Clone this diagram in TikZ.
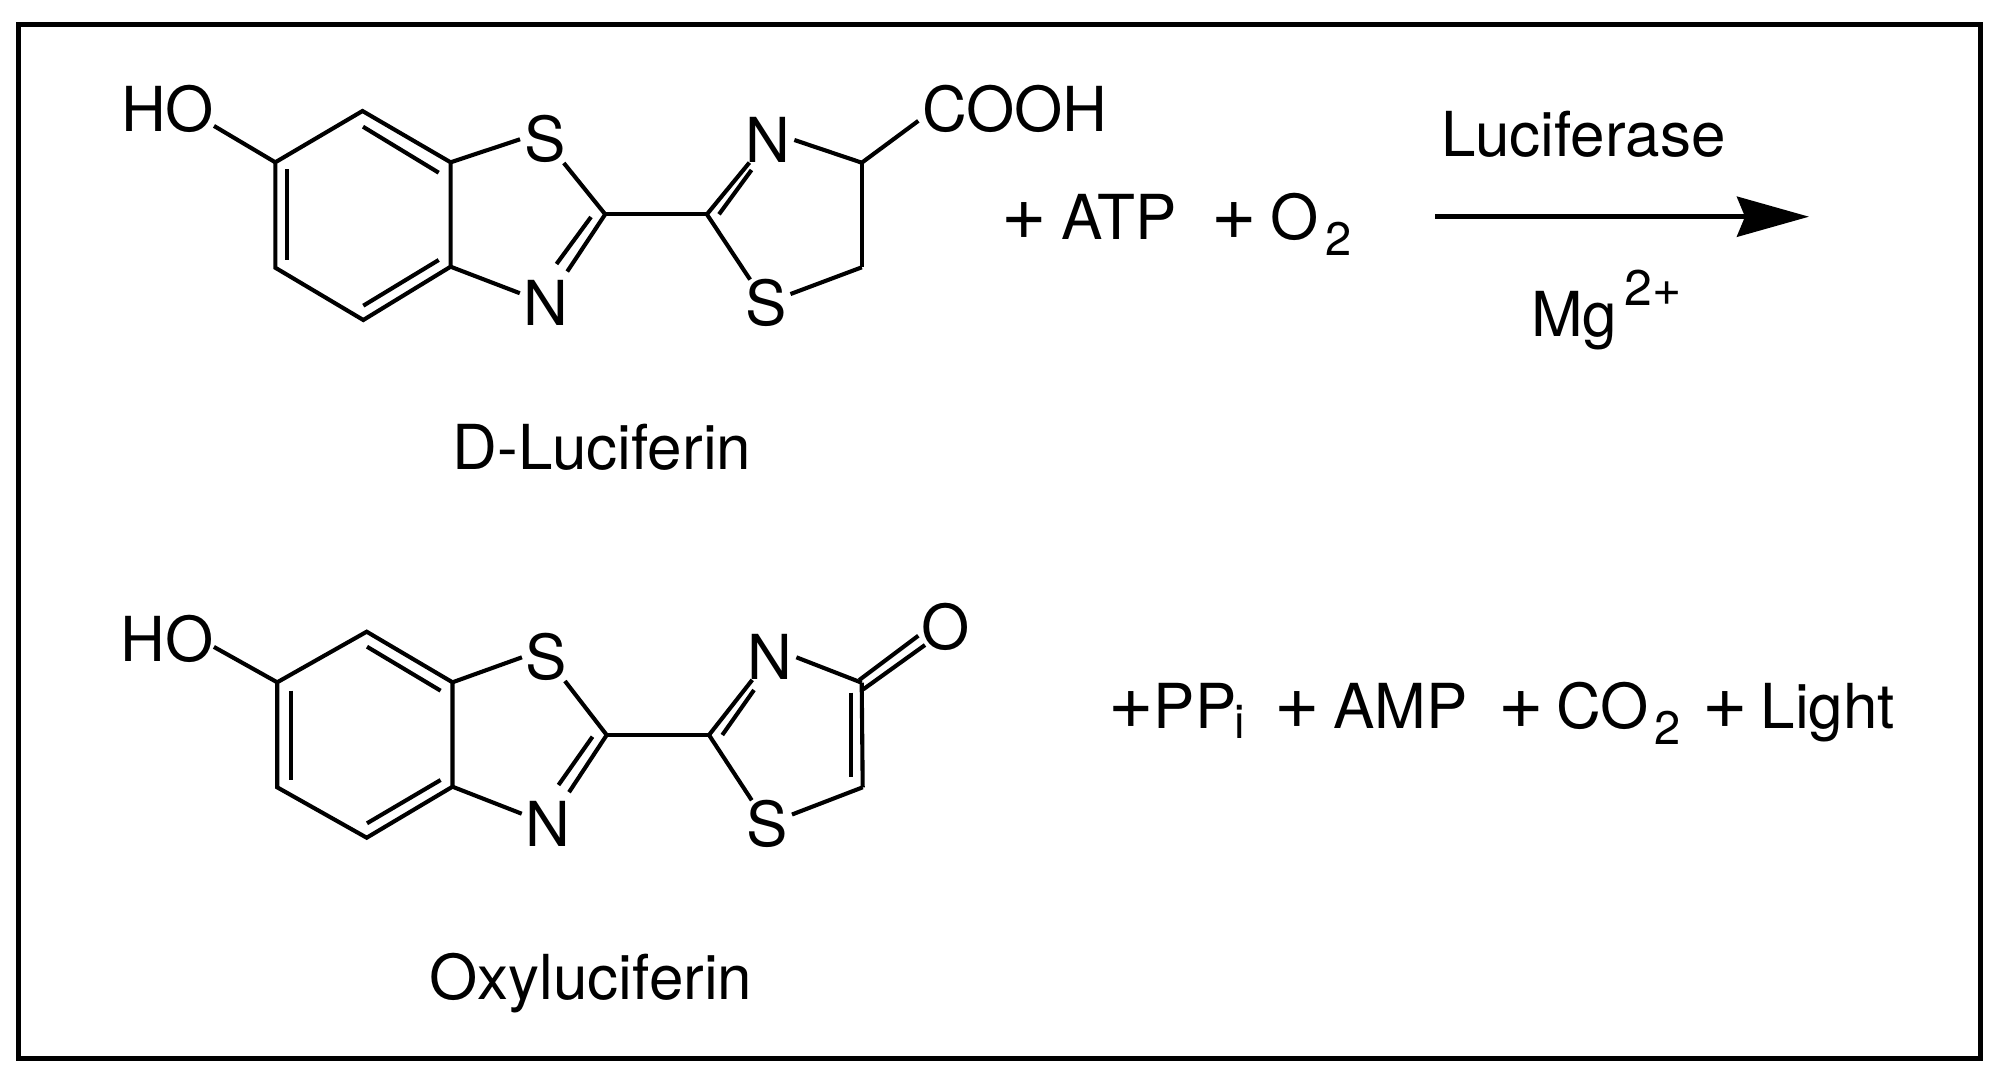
\documentclass[tikz,border=0pt]{standalone}
\usepackage{fontspec}
\setmainfont{TeX Gyre Heros}
\usetikzlibrary{arrows.meta}
\newcommand{\lowidx}[3]{\hspace{#1}\raisebox{-#2}{\fontsize{47}{50}\selectfont #3}}
\newcommand{\plusglyph}{{\fontsize{78}{80}\selectfont +}}
\tikzset{
	bond/.style={line width=4.1pt},
	atom/.style={inner xsep=4pt, inner ysep=0pt, outer sep=0pt, font=\fontsize{62}{70}\selectfont},
	chemtext/.style={inner sep=0pt, anchor=base west, font=\fontsize{62}{70}\selectfont},
	nametext/.style={inner sep=0pt, anchor=base, font=\fontsize{62}{70}\selectfont},
	frame/.style={line width=5pt},
	reaction/.style={line width=5pt, -{Stealth[length=72pt,width=40pt,inset=8pt]}}
}
\begin{document}
\begin{tikzpicture}[x=1pt,y=-1pt]
	\useasboundingbox (0,0) rectangle (2000,1068);
	\draw[frame] (18.7,24) rectangle (1980.7,1058.3);

	\coordinate (a1) at (362.5,111);
	\coordinate (a2) at (450.6,162.3);
	\coordinate (a3) at (450.6,266.7);
	\coordinate (a4) at (363.3,320);
	\coordinate (a5) at (275.3,267.7);
	\coordinate (a6) at (275.3,162.3);
	\coordinate (a7) at (605.2,214.3);
	\coordinate (a8) at (706.9,214.3);
	\coordinate (a9) at (861.8,162.7);
	\coordinate (a10) at (861.8,267.3);

	\node[atom,inner xsep=0pt] (aho) at (167.5,109) {HO};
	\node[atom] (as1) at (544.7,139.3) {S};
	\node[atom] (an1) at (546.2,303.3) {N};
	\node[atom] (an2) at (768,140) {N};
	\node[atom] (as2) at (765.8,303.3) {S};
	\node[atom] (acooh) at (1015,109) {COOH};

	\draw[bond] (aho.-20) -- (a6);
	\draw[bond,line join=miter] (a6) -- (a1) -- (a2) -- (a3) -- (a4) -- (a5) -- cycle;
	\draw[bond] (a2) -- (as1.west);
	\draw[bond] (a3) -- (an1);
	\draw[bond] (as1) -- (a7);
	\draw[bond,shorten >=11pt] (a7) -- (an1);
	\draw[bond] (a7) -- (a8);
	\draw[bond] (a8) -- (an2);
	\draw[bond] (a8) -- (as2);
	\draw[bond] (an2.east) -- (a9);
	\draw[bond] (a9) -- (a10);
	\draw[bond] (a10) -- (as2);
	\draw[bond] (a9) -- (acooh.187);

	\coordinate (ai1) at (287,169);
	\coordinate (ai2) at (287,260);
	\coordinate (ai3) at (363,126.7);
	\coordinate (ai4) at (438.7,172.7);
	\coordinate (ai5) at (438.7,260);
	\coordinate (ai6) at (363.3,305.7);
	\coordinate (ai7) at (591,217);
	\coordinate (ai8) at (556.5,264);
	\coordinate (ai9) at (719,214.3);
	\coordinate (ai10) at (751.5,170);
	\draw[bond] (ai1) -- (ai2);
	\draw[bond] (ai3) -- (ai4);
	\draw[bond] (ai5) -- (ai6);
	\draw[bond] (ai7) -- (ai8);
	\draw[bond] (ai9) -- (ai10);

	\node[chemtext] (reactants) at (1001,239) {\plusglyph\hspace{15pt}ATP\hspace{35pt}\plusglyph\hspace{13pt}O\lowidx{7pt}{16pt}{2}};
	\node[chemtext] (enzyme) at (1441,156) {Luciferase};
	\node[chemtext] (cofactor) at (1531,336) {Mg\raisebox{31pt}{\hspace{7pt}\fontsize{50}{54}\selectfont 2+}};
	\coordinate (arrowstart) at (1435,216.7);
	\coordinate (arrowend) at (1809,216.7);
	\draw[reaction] (arrowstart) -- (arrowend);
	\node[nametext] (dname) at (602,469.3) {D-Luciferin};

	\coordinate (b1) at (366.7,631.7);
	\coordinate (b2) at (452.5,682.3);
	\coordinate (b3) at (452.5,786.7);
	\coordinate (b4) at (366.7,837.7);
	\coordinate (b5) at (277.2,787.3);
	\coordinate (b6) at (277.2,682.3);
	\coordinate (b7) at (606.7,735);
	\coordinate (b8) at (709,735);
	\coordinate (b9) at (861.7,682.7);
	\coordinate (b10) at (862.7,787.3);

	\node[atom,inner xsep=0pt] (bho) at (167.4,638.7) {HO};
	\node[atom] (bs1) at (546.6,657.3) {S};
	\node[atom] (bn1) at (548.1,824) {N};
	\node[atom] (bn2) at (770,657.3) {N};
	\node[atom] (bs2) at (767.3,824) {S};
	\node[atom] (boxo) at (946,626.7) {O};

	\draw[bond] (bho.-10) -- (b6);
	\draw[bond,line join=miter] (b6) -- (b1) -- (b2) -- (b3) -- (b4) -- (b5) -- cycle;
	\draw[bond] (b2) -- (bs1.west);
	\draw[bond] (b3) -- (bn1);
	\draw[bond] (bs1) -- (b7);
	\draw[bond,shorten >=11pt] (b7) -- (bn1);
	\draw[bond] (b7) -- (b8);
	\draw[bond] (b8) -- (bn2);
	\draw[bond] (b8) -- (bs2);
	\draw[bond] (bn2.east) -- (b9);
	\draw[bond] (b9) -- (b10);
	\draw[bond] (b10) -- (bs2);

	\coordinate (bi1) at (290.6,690.7);
	\coordinate (bi2) at (290.6,780);
	\coordinate (bi3) at (367,646.7);
	\coordinate (bi4) at (440.6,690.7);
	\coordinate (bi5) at (440.6,780);
	\coordinate (bi6) at (367,823.3);
	\coordinate (bi7) at (592.5,736.7);
	\coordinate (bi8) at (558.5,785);
	\coordinate (bi9) at (722.3,735);
	\coordinate (bi10) at (754,690);
	\coordinate (bi11) at (851,692.7);
	\coordinate (bi12) at (851,777.3);
	\coordinate (bi13) at (859.3,680);
	\coordinate (bi14) at (918.3,635.7);
	\coordinate (bi15) at (863.3,689.3);
	\coordinate (bi16) at (925,645);
	\draw[bond] (bi1) -- (bi2);
	\draw[bond] (bi3) -- (bi4);
	\draw[bond] (bi5) -- (bi6);
	\draw[bond] (bi7) -- (bi8);
	\draw[bond] (bi9) -- (bi10);
	\draw[bond] (bi11) -- (bi12);
	\draw[bond] (bi13) -- (bi14);
	\draw[bond] (bi15) -- (bi16);

	\node[chemtext] (products) at (1108,728.3) {\plusglyph PP\lowidx{-1.5pt}{10pt}{i}\hspace{29.5pt}\plusglyph\hspace{13pt}AMP\hspace{30.3pt}\plusglyph\hspace{13pt}CO\lowidx{5pt}{16pt}{2}\hspace{22pt}\plusglyph\hspace{13pt}Light};
	\node[nametext] (oname) at (591,999.3) {Oxyluciferin};
\end{tikzpicture}
\end{document}
